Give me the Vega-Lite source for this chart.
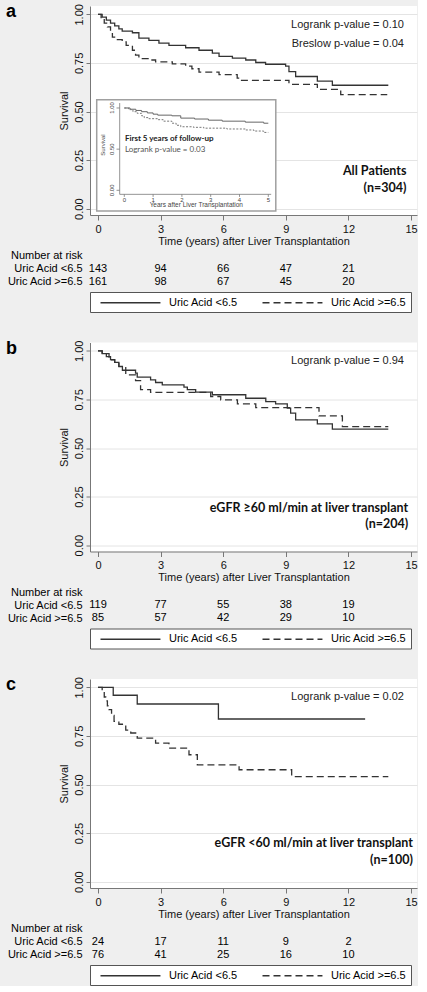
{
"$schema": "https://vega.github.io/schema/vega-lite/v6.json",
"padding": {"left": 5, "top": 3, "right": 0, "bottom": 0},
"config": {"background": "#efefef", "view": {"stroke": null}, "font": "Liberation Sans"},
"resolve": {"scale": {"strokeDash": "independent"}, "legend": {"strokeDash": "independent"}},
"datasets": {
"a": [
{"grp":"Uric Acid <6.5","time":0,"surv":1},{"grp":"Uric Acid <6.5","time":0.2,"surv":0.985},{"grp":"Uric Acid <6.5","time":0.4,"surv":0.97},{"grp":"Uric Acid <6.5","time":0.6,"surv":0.955},{"grp":"Uric Acid <6.5","time":0.8,"surv":0.94},{"grp":"Uric Acid <6.5","time":1.0,"surv":0.925},{"grp":"Uric Acid <6.5","time":1.16,"surv":0.913},{"grp":"Uric Acid <6.5","time":1.65,"surv":0.905},{"grp":"Uric Acid <6.5","time":1.96,"surv":0.877},{"grp":"Uric Acid <6.5","time":2.44,"surv":0.866},{"grp":"Uric Acid <6.5","time":2.92,"surv":0.852},{"grp":"Uric Acid <6.5","time":3.4,"surv":0.84},{"grp":"Uric Acid <6.5","time":4.2,"surv":0.828},{"grp":"Uric Acid <6.5","time":4.84,"surv":0.815},{"grp":"Uric Acid <6.5","time":5,"surv":0.815},{"grp":"Uric Acid <6.5","time":5.48,"surv":0.8},{"grp":"Uric Acid <6.5","time":5.8,"surv":0.784},{"grp":"Uric Acid <6.5","time":6.44,"surv":0.775},{"grp":"Uric Acid <6.5","time":7.08,"surv":0.765},{"grp":"Uric Acid <6.5","time":7.56,"surv":0.752},{"grp":"Uric Acid <6.5","time":8.03,"surv":0.743},{"grp":"Uric Acid <6.5","time":8.99,"surv":0.733},{"grp":"Uric Acid <6.5","time":9.15,"surv":0.705},{"grp":"Uric Acid <6.5","time":9.47,"surv":0.68},{"grp":"Uric Acid <6.5","time":10.51,"surv":0.656},{"grp":"Uric Acid <6.5","time":11.23,"surv":0.635},{"grp":"Uric Acid <6.5","time":13.91,"surv":0.635},
{"grp":"Uric Acid >=6.5","time":0,"surv":1},{"grp":"Uric Acid >=6.5","time":0.15,"surv":0.98},{"grp":"Uric Acid >=6.5","time":0.3,"surv":0.955},{"grp":"Uric Acid >=6.5","time":0.45,"surv":0.935},{"grp":"Uric Acid >=6.5","time":0.6,"surv":0.905},{"grp":"Uric Acid >=6.5","time":0.69,"surv":0.883},{"grp":"Uric Acid >=6.5","time":0.85,"surv":0.87},{"grp":"Uric Acid >=6.5","time":1.16,"surv":0.858},{"grp":"Uric Acid >=6.5","time":1.35,"surv":0.84},{"grp":"Uric Acid >=6.5","time":1.65,"surv":0.815},{"grp":"Uric Acid >=6.5","time":1.8,"surv":0.79},{"grp":"Uric Acid >=6.5","time":1.96,"surv":0.772},{"grp":"Uric Acid >=6.5","time":2.4,"surv":0.765},{"grp":"Uric Acid >=6.5","time":2.76,"surv":0.755},{"grp":"Uric Acid >=6.5","time":3.56,"surv":0.745},{"grp":"Uric Acid >=6.5","time":4.2,"surv":0.733},{"grp":"Uric Acid >=6.5","time":4.5,"surv":0.72},{"grp":"Uric Acid >=6.5","time":4.84,"surv":0.703},{"grp":"Uric Acid >=6.5","time":5,"surv":0.703},{"grp":"Uric Acid >=6.5","time":5.8,"surv":0.69},{"grp":"Uric Acid >=6.5","time":6.67,"surv":0.672},{"grp":"Uric Acid >=6.5","time":6.83,"surv":0.66},{"grp":"Uric Acid >=6.5","time":9.15,"surv":0.64},{"grp":"Uric Acid >=6.5","time":10.51,"surv":0.614},{"grp":"Uric Acid >=6.5","time":11.63,"surv":0.587},{"grp":"Uric Acid >=6.5","time":13.86,"surv":0.587}
],
"b": [
{"grp":"Uric Acid <6.5","time":0,"surv":1},{"grp":"Uric Acid <6.5","time":0.2,"surv":0.985},{"grp":"Uric Acid <6.5","time":0.4,"surv":0.97},{"grp":"Uric Acid <6.5","time":0.6,"surv":0.955},{"grp":"Uric Acid <6.5","time":0.8,"surv":0.94},{"grp":"Uric Acid <6.5","time":1.0,"surv":0.92},{"grp":"Uric Acid <6.5","time":1.17,"surv":0.9},{"grp":"Uric Acid <6.5","time":1.8,"surv":0.885},{"grp":"Uric Acid <6.5","time":1.88,"surv":0.865},{"grp":"Uric Acid <6.5","time":2.52,"surv":0.85},{"grp":"Uric Acid <6.5","time":2.76,"surv":0.837},{"grp":"Uric Acid <6.5","time":3.08,"surv":0.825},{"grp":"Uric Acid <6.5","time":4.12,"surv":0.813},{"grp":"Uric Acid <6.5","time":4.28,"surv":0.8},{"grp":"Uric Acid <6.5","time":4.68,"surv":0.787},{"grp":"Uric Acid <6.5","time":5.48,"surv":0.774},{"grp":"Uric Acid <6.5","time":7.08,"surv":0.756},{"grp":"Uric Acid <6.5","time":8.04,"surv":0.739},{"grp":"Uric Acid <6.5","time":8.51,"surv":0.727},{"grp":"Uric Acid <6.5","time":9.07,"surv":0.705},{"grp":"Uric Acid <6.5","time":9.23,"surv":0.679},{"grp":"Uric Acid <6.5","time":9.47,"surv":0.645},{"grp":"Uric Acid <6.5","time":10.51,"surv":0.624},{"grp":"Uric Acid <6.5","time":11.23,"surv":0.597},{"grp":"Uric Acid <6.5","time":13.91,"surv":0.597},
{"grp":"Uric Acid >=6.5","time":0,"surv":1},{"grp":"Uric Acid >=6.5","time":0.2,"surv":0.985},{"grp":"Uric Acid >=6.5","time":0.53,"surv":0.953},{"grp":"Uric Acid >=6.5","time":0.8,"surv":0.935},{"grp":"Uric Acid >=6.5","time":1.0,"surv":0.919},{"grp":"Uric Acid >=6.5","time":1.33,"surv":0.876},{"grp":"Uric Acid >=6.5","time":1.8,"surv":0.847},{"grp":"Uric Acid >=6.5","time":2.04,"surv":0.8},{"grp":"Uric Acid >=6.5","time":2.52,"surv":0.786},{"grp":"Uric Acid >=6.5","time":5.4,"surv":0.765},{"grp":"Uric Acid >=6.5","time":5.88,"surv":0.748},{"grp":"Uric Acid >=6.5","time":6.68,"surv":0.727},{"grp":"Uric Acid >=6.5","time":7.56,"surv":0.708},{"grp":"Uric Acid >=6.5","time":10.59,"surv":0.665},{"grp":"Uric Acid >=6.5","time":11.71,"surv":0.61},{"grp":"Uric Acid >=6.5","time":13.91,"surv":0.61}
],
"c": [
{"grp":"Uric Acid <6.5","time":0,"surv":1},{"grp":"Uric Acid <6.5","time":0.73,"surv":0.959},{"grp":"Uric Acid <6.5","time":1.88,"surv":0.914},{"grp":"Uric Acid <6.5","time":5.77,"surv":0.837},{"grp":"Uric Acid <6.5","time":12.8,"surv":0.837},
{"grp":"Uric Acid >=6.5","time":0,"surv":1},{"grp":"Uric Acid >=6.5","time":0.2,"surv":0.98},{"grp":"Uric Acid >=6.5","time":0.3,"surv":0.95},{"grp":"Uric Acid >=6.5","time":0.37,"surv":0.93},{"grp":"Uric Acid >=6.5","time":0.45,"surv":0.905},{"grp":"Uric Acid >=6.5","time":0.53,"surv":0.885},{"grp":"Uric Acid >=6.5","time":0.65,"surv":0.855},{"grp":"Uric Acid >=6.5","time":0.77,"surv":0.825},{"grp":"Uric Acid >=6.5","time":1.0,"surv":0.81},{"grp":"Uric Acid >=6.5","time":1.33,"surv":0.78},{"grp":"Uric Acid >=6.5","time":1.57,"surv":0.765},{"grp":"Uric Acid >=6.5","time":1.88,"surv":0.739},{"grp":"Uric Acid >=6.5","time":2.76,"surv":0.713},{"grp":"Uric Acid >=6.5","time":3.4,"surv":0.687},{"grp":"Uric Acid >=6.5","time":4.36,"surv":0.653},{"grp":"Uric Acid >=6.5","time":4.76,"surv":0.601},{"grp":"Uric Acid >=6.5","time":6.76,"surv":0.576},{"grp":"Uric Acid >=6.5","time":9.28,"surv":0.541},{"grp":"Uric Acid >=6.5","time":13.91,"surv":0.541}
],
"riskA": [
{"row":"Uric Acid <6.5","time":0,"n":143},{"row":"Uric Acid <6.5","time":3,"n":94},{"row":"Uric Acid <6.5","time":6,"n":66},{"row":"Uric Acid <6.5","time":9,"n":47},{"row":"Uric Acid <6.5","time":12,"n":21},
{"row":"Uric Acid >=6.5","time":0,"n":161},{"row":"Uric Acid >=6.5","time":3,"n":98},{"row":"Uric Acid >=6.5","time":6,"n":67},{"row":"Uric Acid >=6.5","time":9,"n":45},{"row":"Uric Acid >=6.5","time":12,"n":20}
],
"riskB": [
{"row":"Uric Acid <6.5","time":0,"n":119},{"row":"Uric Acid <6.5","time":3,"n":77},{"row":"Uric Acid <6.5","time":6,"n":55},{"row":"Uric Acid <6.5","time":9,"n":38},{"row":"Uric Acid <6.5","time":12,"n":19},
{"row":"Uric Acid >=6.5","time":0,"n":85},{"row":"Uric Acid >=6.5","time":3,"n":57},{"row":"Uric Acid >=6.5","time":6,"n":42},{"row":"Uric Acid >=6.5","time":9,"n":29},{"row":"Uric Acid >=6.5","time":12,"n":10}
],
"riskC": [
{"row":"Uric Acid <6.5","time":0,"n":24},{"row":"Uric Acid <6.5","time":3,"n":17},{"row":"Uric Acid <6.5","time":6,"n":11},{"row":"Uric Acid <6.5","time":9,"n":9},{"row":"Uric Acid <6.5","time":12,"n":2},
{"row":"Uric Acid >=6.5","time":0,"n":76},{"row":"Uric Acid >=6.5","time":3,"n":41},{"row":"Uric Acid >=6.5","time":6,"n":25},{"row":"Uric Acid >=6.5","time":9,"n":16},{"row":"Uric Acid >=6.5","time":12,"n":10}
],
"notesA": [
{"time":14.66,"surv":0.945,"label":"Logrank p-value = 0.10","kind":"p"},
{"time":14.66,"surv":0.847,"label":"Breslow p-value = 0.04","kind":"p"},
{"time":14.78,"surv":0.194,"label":"All Patients","kind":"group"},
{"time":14.78,"surv":0.107,"label":"(n=304)","kind":"group"},
{"time":-4.41,"surv":0.986,"label":"a","kind":"panel"}
],
"notesB": [
{"time":14.66,"surv":0.945,"label":"Logrank p-value = 0.94","kind":"p"},
{"time":14.86,"surv":0.19,"label":"eGFR ≥60 ml/min at liver transplant","kind":"group"},
{"time":14.86,"surv":0.108,"label":"(n=204)","kind":"group"},
{"time":-4.41,"surv":0.986,"label":"b","kind":"panel"}
],
"notesC": [
{"time":14.66,"surv":0.948,"label":"Logrank p-value = 0.02","kind":"p"},
{"time":15.09,"surv":0.198,"label":"eGFR <60 ml/min at liver transplant","kind":"group"},
{"time":15.09,"surv":0.112,"label":"(n=100)","kind":"group"},
{"time":-4.41,"surv":0.986,"label":"c","kind":"panel"}
],
"insetNotes": [
{"t":0.02,"s":0.623,"label":"First 5 years of follow-up","kind":"head"},
{"t":0.02,"s":0.493,"label":"Logrank p-value = 0.03","kind":"p"}
],
"insetY": [{"s":0,"label":"0.00"},{"s":0.5,"label":"0.50"},{"s":1,"label":"1.00"}],
"insetX": [{"t":0},{"t":1},{"t":2},{"t":3},{"t":4},{"t":5}]
},
"vconcat": [
{
"spacing": 3,
"resolve": {"scale": {"strokeDash": "shared"}, "legend": {"strokeDash": "shared"}},
"vconcat": [
{
"width": 327, "height": 209,
"view": {"fill": "white", "stroke": null},
"resolve": {"scale": {"x": "independent", "y": "independent"}, "axis": {"x": "independent", "y": "independent"}},
"layer": [
{"layer": [
{"data": {"name": "a"},
"mark": {"type": "line", "interpolate": "step-after", "color": "#333333", "strokeWidth": 1.3},
"encoding": {
"x": {"field": "time", "type": "quantitative", "scale": {"domain": [-0.383, 15.285], "nice": false, "zero": false},
"axis": {"values": [0,3,6,9,12,15], "title": "Time (years) after Liver Transplantation", "titleFont": "Liberation Sans", "titleFontSize": 11, "titleFontWeight": "normal", "titleColor": "#111", "titlePadding": 1, "labelFont": "Liberation Sans", "labelFontSize": 11, "labelColor": "#111", "labelPadding": 3, "labelFlush": false, "labelOverlap": false, "tickSize": 5, "tickColor": "#777", "domainColor": "#777", "grid": false}},
"y": {"field": "surv", "type": "quantitative", "scale": {"domain": [-0.0324, 1.0427], "nice": false, "zero": false},
"axis": {"values": [0,0.25,0.5,0.75,1], "format": ".2f", "title": "Survival", "titleFont": "Liberation Sans", "titleFontSize": 11, "titleFontWeight": "normal", "titleColor": "#111", "titlePadding": 4, "labelAngle": 270, "labelAlign": "center", "labelBaseline": "bottom", "labelPadding": 2, "labelFont": "Liberation Sans", "labelFontSize": 11, "labelColor": "#111", "labelFlush": false, "labelOverlap": false, "tickSize": 4, "tickColor": "#777", "domainColor": "#777", "grid": true, "gridColor": "#e4e4e4"}},
"strokeDash": {"field": "grp", "type": "nominal", "scale": {"domain": ["Uric Acid <6.5", "Uric Acid >=6.5"], "range": [[1,0],[7,4]]},
"legend": {"orient": "bottom", "direction": "horizontal", "title": null, "symbolType": "M0,0H10.9", "symbolSize": 121, "symbolStrokeWidth": 1.3, "symbolStrokeColor": "#333333", "labelFont": "Liberation Sans", "labelFontSize": 11, "labelColor": "#000", "labelOffset": 62, "columnPadding": 18, "padding": 4, "strokeColor": "#555555", "fillColor": "#ffffff", "offset": 4}}
}},
{"data": {"name": "notesA"}, "transform": [{"filter": "datum.kind == 'p'"}],
"mark": {"type": "text", "align": "right", "baseline": "middle", "fontSize": 11, "font": "Liberation Sans", "color": "#222"},
"encoding": {"x": {"field": "time", "type": "quantitative"}, "y": {"field": "surv", "type": "quantitative"}, "text": {"field": "label"}}},
{"data": {"name": "notesA"}, "transform": [{"filter": "datum.kind == 'group'"}],
"mark": {"type": "text", "align": "right", "baseline": "middle", "fontSize": 12.5, "font": "Lato", "fontWeight": "bold", "color": "#111"},
"encoding": {"x": {"field": "time", "type": "quantitative"}, "y": {"field": "surv", "type": "quantitative"}, "text": {"field": "label"}}},
{"data": {"name": "notesA"}, "transform": [{"filter": "datum.kind == 'panel'"}],
"mark": {"type": "text", "align": "left", "baseline": "alphabetic", "fontSize": 18, "font": "Liberation Sans", "fontWeight": "bold", "color": "#000"},
"encoding": {"x": {"field": "time", "type": "quantitative"}, "y": {"field": "surv", "type": "quantitative"}, "text": {"field": "label"}}}
]},
{"layer": [
{"data": {"values": [{}]},
"mark": {"type": "rect", "fill": "#ffffff", "stroke": "#a0a0a0", "strokeWidth": 1.5},
"encoding": {"x": {"datum": -0.958, "type": "quantitative", "scale": {"domain": [-1.191, 10.163], "nice": false, "zero": false}, "axis": null}, "x2": {"datum": 5.26},
"y": {"datum": -0.25, "type": "quantitative", "scale": {"domain": [-0.3, 2.239], "nice": false, "zero": false}, "axis": null}, "y2": {"datum": 1.1}}},
{"data": {"values": [{}]},
"mark": {"type": "rule", "color": "#777", "strokeWidth": 0.8},
"encoding": {"x": {"datum": -0.16, "type": "quantitative", "scale": {"domain": [-1.191, 10.163], "nice": false, "zero": false}, "axis": null},
"y": {"datum": -0.049, "type": "quantitative", "scale": {"domain": [-0.3, 2.239], "nice": false, "zero": false}, "axis": null}, "y2": {"datum": 1.06}}},
{"data": {"values": [{}]},
"mark": {"type": "rule", "color": "#777", "strokeWidth": 0.8},
"encoding": {"x": {"datum": -0.16, "type": "quantitative", "scale": {"domain": [-1.191, 10.163], "nice": false, "zero": false}, "axis": null}, "x2": {"datum": 5.1},
"y": {"datum": -0.049, "type": "quantitative", "scale": {"domain": [-0.3, 2.239], "nice": false, "zero": false}, "axis": null}}},
{"data": {"name": "insetY"},
"mark": {"type": "rule", "color": "#777", "strokeWidth": 0.8},
"encoding": {"x": {"datum": -0.27, "type": "quantitative", "scale": {"domain": [-1.191, 10.163], "nice": false, "zero": false}, "axis": null}, "x2": {"datum": -0.16},
"y": {"field": "s", "type": "quantitative", "scale": {"domain": [-0.3, 2.239], "nice": false, "zero": false}, "axis": null}}},
{"data": {"name": "insetY"},
"mark": {"type": "text", "angle": 270, "align": "center", "baseline": "bottom", "fontSize": 6, "font": "Liberation Sans", "color": "#444"},
"encoding": {"x": {"datum": -0.33, "type": "quantitative", "scale": {"domain": [-1.191, 10.163], "nice": false, "zero": false}, "axis": null},
"y": {"field": "s", "type": "quantitative", "scale": {"domain": [-0.3, 2.239], "nice": false, "zero": false}, "axis": null}, "text": {"field": "label"}}},
{"data": {"name": "insetX"},
"mark": {"type": "rule", "color": "#777", "strokeWidth": 0.8},
"encoding": {"x": {"field": "t", "type": "quantitative", "scale": {"domain": [-1.191, 10.163], "nice": false, "zero": false}, "axis": null},
"y": {"datum": -0.049, "type": "quantitative", "scale": {"domain": [-0.3, 2.239], "nice": false, "zero": false}, "axis": null}, "y2": {"datum": -0.08}}},
{"data": {"name": "insetX"},
"mark": {"type": "text", "align": "center", "baseline": "top", "fontSize": 6, "font": "Liberation Sans", "color": "#444"},
"encoding": {"x": {"field": "t", "type": "quantitative", "scale": {"domain": [-1.191, 10.163], "nice": false, "zero": false}, "axis": null},
"y": {"datum": -0.078, "type": "quantitative", "scale": {"domain": [-0.3, 2.239], "nice": false, "zero": false}, "axis": null}, "text": {"field": "t", "type": "quantitative"}}},
{"data": {"values": [{}]},
"mark": {"type": "text", "angle": 270, "align": "center", "baseline": "middle", "fontSize": 6, "font": "Liberation Sans", "color": "#444"},
"encoding": {"x": {"datum": -0.74, "type": "quantitative", "scale": {"domain": [-1.191, 10.163], "nice": false, "zero": false}, "axis": null},
"y": {"datum": 0.55, "type": "quantitative", "scale": {"domain": [-0.3, 2.239], "nice": false, "zero": false}, "axis": null}, "text": {"value": "Survival"}}},
{"data": {"values": [{}]},
"mark": {"type": "text", "align": "center", "baseline": "middle", "fontSize": 6.5, "font": "Liberation Sans", "color": "#444"},
"encoding": {"x": {"datum": 2.5, "type": "quantitative", "scale": {"domain": [-1.191, 10.163], "nice": false, "zero": false}, "axis": null},
"y": {"datum": -0.178, "type": "quantitative", "scale": {"domain": [-0.3, 2.239], "nice": false, "zero": false}, "axis": null}, "text": {"value": "Years after Liver Transplantation"}}},
{"data": {"name": "insetNotes"}, "transform": [{"filter": "datum.kind == 'head'"}],
"mark": {"type": "text", "align": "left", "baseline": "middle", "fontSize": 8, "font": "Lato", "fontWeight": "bold", "color": "#222"},
"encoding": {"x": {"field": "t", "type": "quantitative", "scale": {"domain": [-1.191, 10.163], "nice": false, "zero": false}, "axis": null},
"y": {"field": "s", "type": "quantitative", "scale": {"domain": [-0.3, 2.239], "nice": false, "zero": false}, "axis": null}, "text": {"field": "label"}}},
{"data": {"name": "insetNotes"}, "transform": [{"filter": "datum.kind == 'p'"}],
"mark": {"type": "text", "align": "left", "baseline": "middle", "fontSize": 8, "font": "Lato", "color": "#555"},
"encoding": {"x": {"field": "t", "type": "quantitative", "scale": {"domain": [-1.191, 10.163], "nice": false, "zero": false}, "axis": null},
"y": {"field": "s", "type": "quantitative", "scale": {"domain": [-0.3, 2.239], "nice": false, "zero": false}, "axis": null}, "text": {"field": "label"}}},
{"data": {"name": "a"}, "transform": [{"filter": "datum.time <= 5 && datum.grp == 'Uric Acid <6.5'"}],
"mark": {"type": "line", "interpolate": "step-after", "color": "#666", "strokeWidth": 1},
"encoding": {"x": {"field": "time", "type": "quantitative", "scale": {"domain": [-1.191, 10.163], "nice": false, "zero": false}, "axis": null},
"y": {"field": "surv", "type": "quantitative", "scale": {"domain": [-0.3, 2.239], "nice": false, "zero": false}, "axis": null}}},
{"data": {"name": "a"}, "transform": [{"filter": "datum.time <= 5 && datum.grp == 'Uric Acid >=6.5'"}],
"mark": {"type": "line", "interpolate": "step-after", "color": "#777", "strokeWidth": 1, "strokeDash": [2, 1.5]},
"encoding": {"x": {"field": "time", "type": "quantitative", "scale": {"domain": [-1.191, 10.163], "nice": false, "zero": false}, "axis": null},
"y": {"field": "surv", "type": "quantitative", "scale": {"domain": [-0.3, 2.239], "nice": false, "zero": false}, "axis": null}}}
]}
]
},
{
"width": 327, "height": 39,
"data": {"name": "riskA"},
"mark": {"type": "text", "fontSize": 11, "font": "Liberation Sans", "color": "#000", "baseline": "middle"},
"encoding": {
"x": {"field": "time", "type": "quantitative", "scale": {"domain": [-0.383, 15.285], "nice": false, "zero": false}, "axis": null},
"y": {"field": "row", "type": "nominal", "scale": {"type": "point", "padding": 0.5, "domain": ["Number at risk", "Uric Acid <6.5", "Uric Acid >=6.5"]},
"axis": {"title": null, "domain": false, "ticks": false, "grid": false, "labelPadding": 8, "labelFont": "Liberation Sans", "labelFontSize": 11, "labelColor": "#000"}},
"text": {"field": "n", "type": "nominal"}
}
}
]
},
{
"spacing": 3,
"resolve": {"scale": {"strokeDash": "shared"}, "legend": {"strokeDash": "shared"}},
"vconcat": [
{
"width": 327, "height": 209,
"view": {"fill": "white", "stroke": null},
"layer": [
{"data": {"name": "b"},
"mark": {"type": "line", "interpolate": "step-after", "color": "#333333", "strokeWidth": 1.3},
"encoding": {
"x": {"field": "time", "type": "quantitative", "scale": {"domain": [-0.383, 15.285], "nice": false, "zero": false},
"axis": {"values": [0,3,6,9,12,15], "title": "Time (years) after Liver Transplantation", "titleFont": "Liberation Sans", "titleFontSize": 11, "titleFontWeight": "normal", "titleColor": "#111", "titlePadding": 1, "labelFont": "Liberation Sans", "labelFontSize": 11, "labelColor": "#111", "labelPadding": 3, "labelFlush": false, "labelOverlap": false, "tickSize": 5, "tickColor": "#777", "domainColor": "#777", "grid": false}},
"y": {"field": "surv", "type": "quantitative", "scale": {"domain": [-0.0324, 1.0427], "nice": false, "zero": false},
"axis": {"values": [0,0.25,0.5,0.75,1], "format": ".2f", "title": "Survival", "titleFont": "Liberation Sans", "titleFontSize": 11, "titleFontWeight": "normal", "titleColor": "#111", "titlePadding": 4, "labelAngle": 270, "labelAlign": "center", "labelBaseline": "bottom", "labelPadding": 2, "labelFont": "Liberation Sans", "labelFontSize": 11, "labelColor": "#111", "labelFlush": false, "labelOverlap": false, "tickSize": 4, "tickColor": "#777", "domainColor": "#777", "grid": true, "gridColor": "#e4e4e4"}},
"strokeDash": {"field": "grp", "type": "nominal", "scale": {"domain": ["Uric Acid <6.5", "Uric Acid >=6.5"], "range": [[1,0],[7,4]]},
"legend": {"orient": "bottom", "direction": "horizontal", "title": null, "symbolType": "M0,0H10.9", "symbolSize": 121, "symbolStrokeWidth": 1.3, "symbolStrokeColor": "#333333", "labelFont": "Liberation Sans", "labelFontSize": 11, "labelColor": "#000", "labelOffset": 62, "columnPadding": 18, "padding": 4, "strokeColor": "#555555", "fillColor": "#ffffff", "offset": 4}}
}},
{"data": {"name": "notesB"}, "transform": [{"filter": "datum.kind == 'p'"}],
"mark": {"type": "text", "align": "right", "baseline": "middle", "fontSize": 11, "font": "Liberation Sans", "color": "#222"},
"encoding": {"x": {"field": "time", "type": "quantitative"}, "y": {"field": "surv", "type": "quantitative"}, "text": {"field": "label"}}},
{"data": {"name": "notesB"}, "transform": [{"filter": "datum.kind == 'group'"}],
"mark": {"type": "text", "align": "right", "baseline": "middle", "fontSize": 12.5, "font": "Lato", "fontWeight": "bold", "color": "#111"},
"encoding": {"x": {"field": "time", "type": "quantitative"}, "y": {"field": "surv", "type": "quantitative"}, "text": {"field": "label"}}},
{"data": {"name": "notesB"}, "transform": [{"filter": "datum.kind == 'panel'"}],
"mark": {"type": "text", "align": "left", "baseline": "alphabetic", "fontSize": 18, "font": "Liberation Sans", "fontWeight": "bold", "color": "#000"},
"encoding": {"x": {"field": "time", "type": "quantitative"}, "y": {"field": "surv", "type": "quantitative"}, "text": {"field": "label"}}}
]
},
{
"width": 327, "height": 39,
"data": {"name": "riskB"},
"mark": {"type": "text", "fontSize": 11, "font": "Liberation Sans", "color": "#000", "baseline": "middle"},
"encoding": {
"x": {"field": "time", "type": "quantitative", "scale": {"domain": [-0.383, 15.285], "nice": false, "zero": false}, "axis": null},
"y": {"field": "row", "type": "nominal", "scale": {"type": "point", "padding": 0.5, "domain": ["Number at risk", "Uric Acid <6.5", "Uric Acid >=6.5"]},
"axis": {"title": null, "domain": false, "ticks": false, "grid": false, "labelPadding": 8, "labelFont": "Liberation Sans", "labelFontSize": 11, "labelColor": "#000"}},
"text": {"field": "n", "type": "nominal"}
}
}
]
},
{
"spacing": 3,
"resolve": {"scale": {"strokeDash": "shared"}, "legend": {"strokeDash": "shared"}},
"vconcat": [
{
"width": 327, "height": 209,
"view": {"fill": "white", "stroke": null},
"layer": [
{"data": {"name": "c"},
"mark": {"type": "line", "interpolate": "step-after", "color": "#333333", "strokeWidth": 1.3},
"encoding": {
"x": {"field": "time", "type": "quantitative", "scale": {"domain": [-0.383, 15.285], "nice": false, "zero": false},
"axis": {"values": [0,3,6,9,12,15], "title": "Time (years) after Liver Transplantation", "titleFont": "Liberation Sans", "titleFontSize": 11, "titleFontWeight": "normal", "titleColor": "#111", "titlePadding": 1, "labelFont": "Liberation Sans", "labelFontSize": 11, "labelColor": "#111", "labelPadding": 3, "labelFlush": false, "labelOverlap": false, "tickSize": 5, "tickColor": "#777", "domainColor": "#777", "grid": false}},
"y": {"field": "surv", "type": "quantitative", "scale": {"domain": [-0.0324, 1.0427], "nice": false, "zero": false},
"axis": {"values": [0,0.25,0.5,0.75,1], "format": ".2f", "title": "Survival", "titleFont": "Liberation Sans", "titleFontSize": 11, "titleFontWeight": "normal", "titleColor": "#111", "titlePadding": 4, "labelAngle": 270, "labelAlign": "center", "labelBaseline": "bottom", "labelPadding": 2, "labelFont": "Liberation Sans", "labelFontSize": 11, "labelColor": "#111", "labelFlush": false, "labelOverlap": false, "tickSize": 4, "tickColor": "#777", "domainColor": "#777", "grid": true, "gridColor": "#e4e4e4"}},
"strokeDash": {"field": "grp", "type": "nominal", "scale": {"domain": ["Uric Acid <6.5", "Uric Acid >=6.5"], "range": [[1,0],[7,4]]},
"legend": {"orient": "bottom", "direction": "horizontal", "title": null, "symbolType": "M0,0H10.9", "symbolSize": 121, "symbolStrokeWidth": 1.3, "symbolStrokeColor": "#333333", "labelFont": "Liberation Sans", "labelFontSize": 11, "labelColor": "#000", "labelOffset": 62, "columnPadding": 18, "padding": 4, "strokeColor": "#555555", "fillColor": "#ffffff", "offset": 4}}
}},
{"data": {"name": "notesC"}, "transform": [{"filter": "datum.kind == 'p'"}],
"mark": {"type": "text", "align": "right", "baseline": "middle", "fontSize": 11, "font": "Liberation Sans", "color": "#222"},
"encoding": {"x": {"field": "time", "type": "quantitative"}, "y": {"field": "surv", "type": "quantitative"}, "text": {"field": "label"}}},
{"data": {"name": "notesC"}, "transform": [{"filter": "datum.kind == 'group'"}],
"mark": {"type": "text", "align": "right", "baseline": "middle", "fontSize": 12.5, "font": "Lato", "fontWeight": "bold", "color": "#111"},
"encoding": {"x": {"field": "time", "type": "quantitative"}, "y": {"field": "surv", "type": "quantitative"}, "text": {"field": "label"}}},
{"data": {"name": "notesC"}, "transform": [{"filter": "datum.kind == 'panel'"}],
"mark": {"type": "text", "align": "left", "baseline": "alphabetic", "fontSize": 18, "font": "Liberation Sans", "fontWeight": "bold", "color": "#000"},
"encoding": {"x": {"field": "time", "type": "quantitative"}, "y": {"field": "surv", "type": "quantitative"}, "text": {"field": "label"}}}
]
},
{
"width": 327, "height": 39,
"data": {"name": "riskC"},
"mark": {"type": "text", "fontSize": 11, "font": "Liberation Sans", "color": "#000", "baseline": "middle"},
"encoding": {
"x": {"field": "time", "type": "quantitative", "scale": {"domain": [-0.383, 15.285], "nice": false, "zero": false}, "axis": null},
"y": {"field": "row", "type": "nominal", "scale": {"type": "point", "padding": 0.5, "domain": ["Number at risk", "Uric Acid <6.5", "Uric Acid >=6.5"]},
"axis": {"title": null, "domain": false, "ticks": false, "grid": false, "labelPadding": 8, "labelFont": "Liberation Sans", "labelFontSize": 11, "labelColor": "#000"}},
"text": {"field": "n", "type": "nominal"}
}
}
]
}
],
"spacing": 26.5
}
